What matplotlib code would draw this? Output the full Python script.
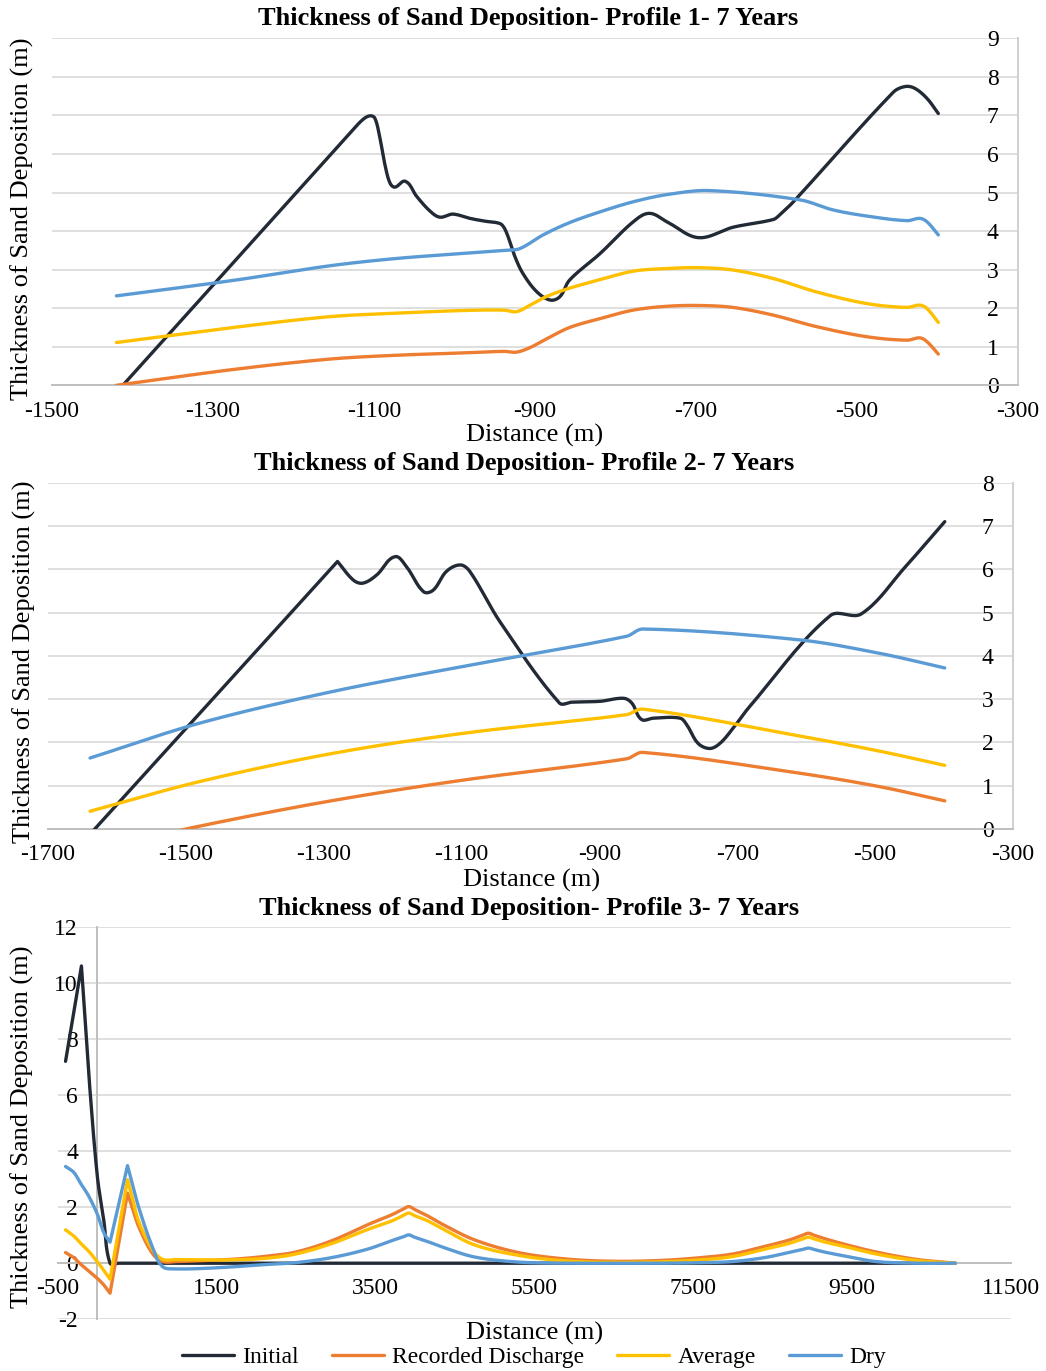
import numpy as np
import matplotlib
matplotlib.use("Agg")
import matplotlib.pyplot as plt

plt.rcParams['font.family'] = 'Liberation Serif'
plt.rcParams['axes.unicode_minus'] = False

# ---- Profile 1 ----
p1_init_x = [-1412, -1130, -1114, -1105, -1099, -1093, -1086, -1080, -1074, -1061, -1047,
             -1030, -1018, -1002, -981, -960, -948, -941, -935, -925, -915, -898, -881,
             -869, -857, -819, -778, -758, -736, -697, -654, -604, -596, -579, -455,
             -440, -428, -413, -399]
p1_init = [0, 6.54, 6.89, 6.99, 6.93, 6.45, 5.68, 5.24, 5.14, 5.29, 4.9,
           4.51, 4.36, 4.44, 4.33, 4.25, 4.22, 4.16, 3.94, 3.34, 2.9, 2.43, 2.21,
           2.3, 2.73, 3.42, 4.24, 4.46, 4.24, 3.83, 4.1, 4.3, 4.42, 4.76, 7.6,
           7.75, 7.7, 7.44, 7.05]

p1_dry_x = [-1420, -1275, -1155, -1072, -989, -931, -921, -910, -890, -857, -819, -778,
            -735, -683, -571, -530, -488, -438, -422, -413, -399]
p1_dry = [2.32, 2.72, 3.1, 3.29, 3.42, 3.51, 3.53, 3.64, 3.9, 4.22, 4.5, 4.76,
          4.95, 5.05, 4.81, 4.55, 4.39, 4.27, 4.33, 4.24, 3.9]

p1_x = [-1420, -1275, -1155, -1072, -989, -939, -923, -906, -886, -857, -819, -778,
        -736, -695, -654, -604, -550, -488, -438, -422, -413, -399]
p1_avg = [1.11, 1.5, 1.78, 1.87, 1.94, 1.95, 1.91, 2.08, 2.3, 2.52, 2.74, 2.96,
          3.03, 3.05, 2.99, 2.77, 2.42, 2.12, 2.02, 2.08, 1.99, 1.63]
p1_rec = [0, 0.41, 0.68, 0.78, 0.84, 0.88, 0.86, 0.98, 1.2, 1.5, 1.73, 1.95,
          2.05, 2.07, 2.02, 1.82, 1.52, 1.26, 1.17, 1.23, 1.13, 0.81]

# ---- Profile 2 ----
p2_init_x = [-1639, -1280, -1257, -1243, -1223, -1197, -1180, -1155, -1141, -1122, -1102,
             -1088, -1044, -958, -940, -899, -865, -853, -839, -822, -783, -773, -757,
             -740, -725, -706, -682, -565, -520, -456, -399]
p2_init = [-0.12, 6.18, 5.75, 5.68, 5.87, 6.29, 6.06, 5.48, 5.52, 5.95, 6.1,
           5.95, 4.78, 2.91, 2.93, 2.95, 3.02, 2.91, 2.53, 2.56, 2.56, 2.4, 1.98,
           1.86, 1.98, 2.33, 2.83, 4.93, 4.97, 6.06, 7.1]

p2_x = [-1639, -1479, -1286, -1093, -861, -837, -610, -494, -399]
p2_dry = [1.64, 2.45, 3.18, 3.77, 4.45, 4.62, 4.37, 4.06, 3.72]
p2_avg = [0.41, 1.1, 1.75, 2.22, 2.64, 2.77, 2.15, 1.8, 1.47]
p2_rec = [-0.5, 0.07, 0.66, 1.14, 1.62, 1.77, 1.29, 0.98, 0.65]

# ---- Profile 3 ----
p3_x = [-400, -300, -230, -200, -170, -100, 0, 80, 160,
        270, 330, 380, 430, 520, 690, 820,
        1000, 1300, 1700, 2100, 2500, 2950, 3400, 3700,
        3850, 3920, 3990, 4150, 4350, 4750, 5300, 5900,
        6500, 7100, 7600, 8000, 8400, 8700, 8880, 8950,
        9020, 9150, 9400, 9800, 10300, 10800]
p3_init = [7.2, 8.87, 10.09, 10.6, 9.35, 6.45, 3.1, 1.56, 0,
           0, 0, 0, 0, 0, 0, 0,
           0, 0, 0, 0, 0, 0, 0, 0,
           0, 0, 0, 0, 0, 0, 0, 0,
           0, 0, 0, 0, 0, 0, 0, 0,
           0, 0, 0, 0, 0, 0]
p3_rec = [0.38, 0.21, 0.02, -0.06, -0.13, -0.3, -0.54, -0.77, -1.07,
          0.71, 1.69, 2.5, 2.07, 1.31, 0.36, 0.06,
          0.06, 0.09, 0.14, 0.24, 0.4, 0.8, 1.37, 1.72,
          1.93, 2.02, 1.92, 1.7, 1.38, 0.83, 0.38, 0.15,
          0.07, 0.1, 0.2, 0.33, 0.6, 0.82, 1.0, 1.07,
          1.0, 0.88, 0.68, 0.4, 0.14, 0]
p3_avg = [1.19, 0.98, 0.77, 0.68, 0.6, 0.4, 0.05, -0.25, -0.57,
          1.2, 2.17, 2.98, 2.45, 1.5, 0.5, 0.14,
          0.13, 0.12, 0.12, 0.17, 0.33, 0.7, 1.2, 1.5,
          1.7, 1.79, 1.7, 1.52, 1.22, 0.65, 0.28, 0.08,
          0.03, 0.05, 0.12, 0.24, 0.5, 0.7, 0.87, 0.93,
          0.87, 0.76, 0.6, 0.33, 0.1, 0]
p3_dry = [3.45, 3.25, 2.95, 2.8, 2.68, 2.35, 1.75, 1.1, 0.75,
          2.1, 2.86, 3.48, 2.95, 2.0, 0.6, -0.12,
          -0.2, -0.19, -0.13, -0.05, 0.02, 0.2, 0.5, 0.8,
          0.94, 1.01, 0.93, 0.78, 0.57, 0.22, 0.04, 0,
          0, 0, 0.02, 0.06, 0.2, 0.38, 0.49, 0.54,
          0.49, 0.4, 0.26, 0.06, 0, 0]

names = ['Initial', 'Recorded Discharge', 'Average', 'Dry']
colors = ['#222a35', '#ed7d31', '#ffc000', '#5b9bd5']

W, H = 1046, 1371
fig = plt.figure(figsize=(W / 100, H / 100), dpi=100)


def unit(v):
    n = np.hypot(*v)
    return v / n if n > 0 else v


def smooth(xs, ys, sx, sy, n=20):
    # smoothed line through the points; handles follow the neighbour chord
    # and scale with each segment so uneven spacing does not loop.
    # sharp turns (more than 90 degrees) are kept as corners
    p = np.column_stack([np.asarray(xs, float) / sx, np.asarray(ys, float) / sy])
    m = len(p)
    t_in = np.zeros_like(p)
    t_out = np.zeros_like(p)
    for i in range(m):
        a = unit(p[i] - p[max(i - 1, 0)])
        b = unit(p[min(i + 1, m - 1)] - p[i])
        if i == 0:
            a = b
        if i == m - 1:
            b = a
        if np.dot(a, b) < 0:
            t_in[i], t_out[i] = a, b
        else:
            t_in[i] = t_out[i] = unit(p[min(i + 1, m - 1)] - p[max(i - 1, 0)])
    t = np.linspace(0, 1, n)[:, None]
    out = []
    for i in range(m - 1):
        L = np.hypot(*(p[i + 1] - p[i]))
        c1 = p[i] + t_out[i] * L / 3
        c2 = p[i + 1] - t_in[i + 1] * L / 3
        seg = (1 - t) ** 3 * p[i] + 3 * (1 - t) ** 2 * t * c1 + 3 * (1 - t) * t ** 2 * c2 + t ** 3 * p[i + 1]
        out.append(seg if i == 0 else seg[1:])
    pts = np.vstack(out)
    return pts[:, 0] * sx, pts[:, 1] * sy


def make_axes(left, right, top, bottom):
    return fig.add_axes([left / W, 1 - bottom / H, (right - left) / W, (bottom - top) / H])


def style(ax, xlim, ylim, xticks, yticks):
    ax.set_xlim(*xlim)
    ax.set_ylim(*ylim)
    ax.set_xticks(xticks)
    ax.set_yticks(yticks)
    ax.yaxis.grid(True, color='#d9d9d9', lw=1.2)
    ax.set_axisbelow(True)
    ax.tick_params(axis='both', length=0, labelsize=17)
    ax.tick_params(axis='x', pad=11)
    ax.tick_params(axis='y', pad=14)
    for s in ['top', 'right']:
        ax.spines[s].set_visible(False)
    ax.spines['bottom'].set_color('#bfbfbf')
    ax.spines['bottom'].set_linewidth(1.4)
    ax.spines['left'].set_color('#d0d0d0')
    ax.spines['left'].set_linewidth(1.4)


def draw(ax, series, sx, sy):
    lines = []
    for (xs, ys), name, c in zip(series, names, colors):
        sxs, sys_ = smooth(xs, ys, sx, sy)
        ln, = ax.plot(sxs, sys_, color=c, lw=2.4, label=name, solid_capstyle='round', zorder=3)
        lines.append(ln)
    return lines


def labels(title, tx, ty, lx, ly, yx, yy):
    fig.text(tx / W, 1 - ty / H, title, ha='center', va='center', fontsize=19, fontweight='bold')
    fig.text(lx / W, 1 - ly / H, 'Distance (m)', ha='center', va='center', fontsize=19)
    fig.text(yx / W, 1 - yy / H, 'Thickness of Sand Deposition (m)', ha='center', va='center',
             fontsize=19, rotation=90)


# Profile 1
ax1 = make_axes(52, 1018, 38.3, 385.3)
style(ax1, (-1500, -300), (0, 9), range(-1500, -299, 200), range(0, 10))
ax1.spines['left'].set_position(('axes', 1.0))
draw(ax1, [(p1_init_x, p1_init), (p1_x, p1_rec), (p1_x, p1_avg), (p1_dry_x, p1_dry)],
     1200 / 966, 9 / 347)
labels('Thickness of Sand Deposition- Profile 1- 7 Years', 528, 18, 535, 435, 22, 219)

# Profile 2
ax2 = make_axes(48, 1013, 482.7, 829)
style(ax2, (-1700, -300), (0, 8), range(-1700, -299, 200), range(0, 9))
ax2.spines['left'].set_position(('axes', 1.0))
draw(ax2, [(p2_init_x, p2_init), (p2_x, p2_rec), (p2_x, p2_avg), (p2_x, p2_dry)],
     1400 / 965, 8 / 346)
labels('Thickness of Sand Deposition- Profile 2- 7 Years', 524, 464, 532, 880, 24, 662)

# Profile 3
ax3 = make_axes(57.6, 1011, 926.7, 1319.3)
style(ax3, (-500, 11500), (-2, 12), range(-500, 11501, 2000), range(-2, 13, 2))
ax3.spines['left'].set_position(('data', 0))
ax3.spines['bottom'].set_position(('data', 0))
ax3.spines['left'].set_color('#bfbfbf')
lines = draw(ax3, [(p3_x, p3_init), (p3_x, p3_rec), (p3_x, p3_avg), (p3_x, p3_dry)],
             12000 / 953, 14 / 392.6)
labels('Thickness of Sand Deposition- Profile 3- 7 Years', 529, 908, 535, 1333, 22, 1127)

fig.legend(handles=lines, labels=names, loc='center', bbox_to_anchor=(534 / W, 1 - 1357 / H),
           ncol=4, frameon=False, fontsize=17, handlelength=2.2, handletextpad=0.35,
           columnspacing=1.4, borderpad=0)

fig.savefig('out.png', dpi=100)
